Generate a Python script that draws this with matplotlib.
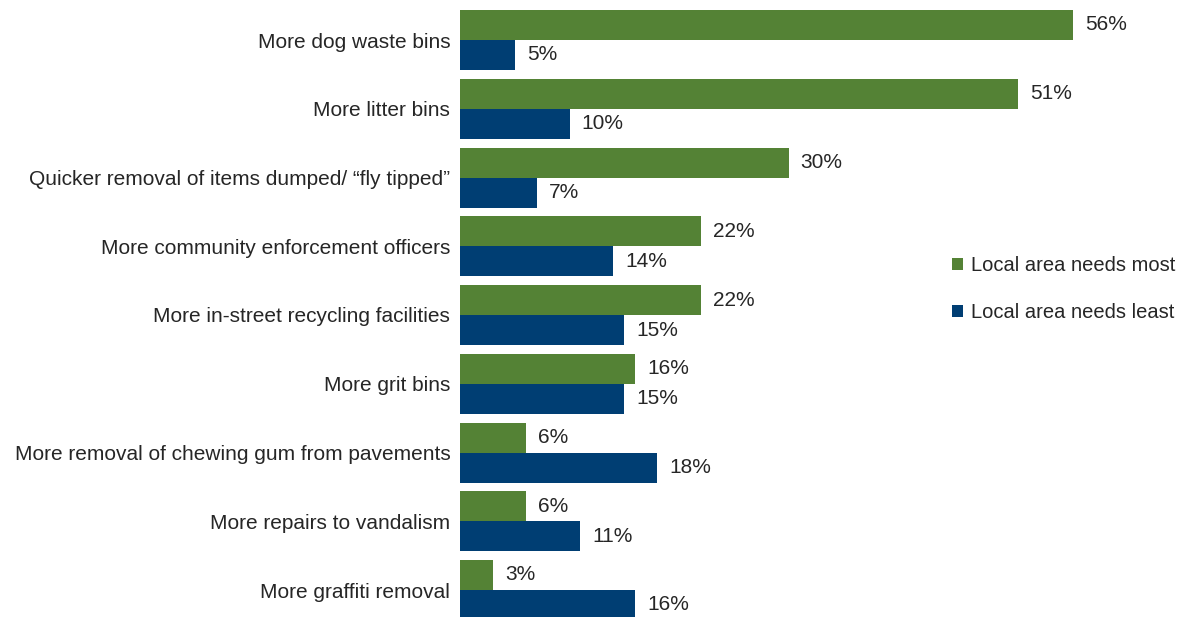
import numpy as np
import matplotlib
matplotlib.use("Agg")
import matplotlib.pyplot as plt

categories = [
    "More dog waste bins",
    "More litter bins",
    "Quicker removal of items dumped/ \u201cfly tipped\u201d",
    "More community enforcement officers",
    "More in-street recycling facilities",
    "More grit bins",
    "More removal of chewing gum from pavements",
    "More repairs to vandalism",
    "More graffiti removal",
]
needs_most = [56, 51, 30, 22, 22, 16, 6, 6, 3]
needs_least = [5, 10, 7, 14, 15, 15, 18, 11, 16]

green = "#548235"
blue = "#003e73"
txt = "#262626"

plt.rcParams["font.family"] = ["Liberation Sans", "DejaVu Sans"]

W, H = 1188, 617
fig = plt.figure(figsize=(W / 100, H / 100), dpi=100)

# axes placed in pixel terms: bars start at x=460, 10.95 px per percent
left = 460 / W
xmax = 60
ax = fig.add_axes([left, 0, xmax * 10.95 / W, 1])

pitch = 68.75
bh = 30 / pitch
y = np.arange(len(categories))

ax.barh(y - bh / 2, needs_most, height=bh, color=green, label="Local area needs most")
ax.barh(y + bh / 2, needs_least, height=bh, color=blue, label="Local area needs least")

fs = 15
for yi, v in zip(y, needs_most):
    ax.text(v + 1.1, yi - bh / 2, f"{v}%", va="center", ha="left", fontsize=fs, color=txt)
for yi, v in zip(y, needs_least):
    ax.text(v + 1.1, yi + bh / 2, f"{v}%", va="center", ha="left", fontsize=fs, color=txt)

ax.set_xlim(0, xmax)
ax.set_ylim((H - 40) / pitch, -40 / pitch)
ax.set_yticks(y)
ax.set_yticklabels(categories, fontsize=fs, color=txt)
ax.tick_params(axis="y", length=0, pad=7)
ax.set_xticks([])
for s in ax.spines.values():
    s.set_visible(False)

fig.legend(loc="center left", bbox_to_anchor=(934 / W, 1 - 289 / H), frameon=False,
           fontsize=14.5, handlelength=0.55, handleheight=0.55, handletextpad=0.4,
           labelspacing=1.4, labelcolor=txt)

fig.savefig("out.png", dpi=100)
